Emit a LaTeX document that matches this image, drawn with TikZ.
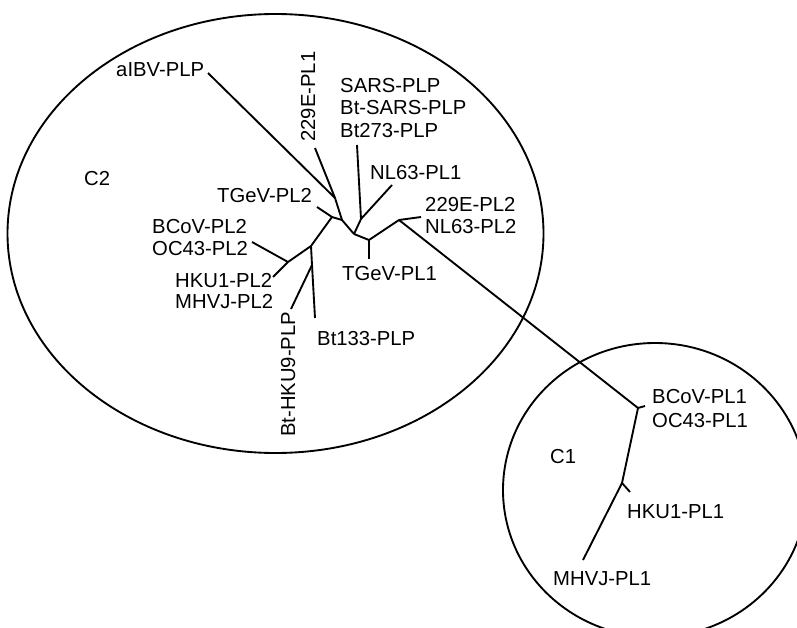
\documentclass[tikz,border=0pt]{standalone}
\usepackage{fontspec}
\setmainfont{Liberation Sans}
\begin{document}
\begin{tikzpicture}[x=0.03cm,y=-0.03cm]
  \tikzset{Taxon/.style={%
      anchor=base west,%
      inner sep=0pt,%
      font=\fontsize{17.3}{20}\selectfont,%
    }}
  \tikzset{Branch/.style={%
      -,%
      line width=1.6pt,%
    }}
  \tikzset{Clade/.style={%
      line width=1.6pt,%
    }}

  \useasboundingbox (0,0) rectangle (797,628);
  \clip (0,0) rectangle (797,628);

  % clade outlines
  \coordinate (c2) at (275.5,233.5);
  \coordinate (c1) at (655,490);
  \draw[Clade] (c2) ellipse [x radius=268, y radius=219.5];
  \draw[Clade] (c1) ellipse [x radius=152, y radius=147];
  \node[Taxon] (c2lab) at (84,186) {C2};
  \node[Taxon] (c1lab) at (550,463) {C1};

  % inner forks
  \coordinate (j1) at (342,220);
  \coordinate (j2) at (354,234);
  \coordinate (j3) at (361,219);
  \coordinate (j4) at (369,240);
  \coordinate (j5) at (399,220);
  \coordinate (j6) at (311,246);
  \coordinate (j7) at (332,217);
  \coordinate (j8) at (335,198);
  \coordinate (j9) at (288,262);
  \coordinate (j10) at (312,265);
  \coordinate (k1) at (638,408);
  \coordinate (k2) at (622,483);

  % tips
  \coordinate (aIBV) at (208,73);
  \coordinate (E229a) at (315,148);
  \coordinate (SARS) at (357,145);
  \coordinate (NL63a) at (392,185);
  \coordinate (TGeVb) at (317,207);
  \coordinate (E229b) at (421,217);
  \coordinate (TGeVa) at (369,259);
  \coordinate (OC43b) at (252,242);
  \coordinate (HKU1b) at (273,277);
  \coordinate (BtHKU9) at (291,309);
  \coordinate (Bt133) at (315,318);
  \coordinate (BCoVa) at (645,406);
  \coordinate (HKU1a) at (630,492);
  \coordinate (MHVJa) at (583,560);

  % names
  \node[Taxon] (aIBVlab) at (116,77) {aIBV-PLP};
  \node[Taxon, rotate=90] (E229alab) at (315,142) {229E-PL1};
  \node[Taxon] (SARSlab) at (340,93) {SARS-PLP};
  \node[Taxon] (BtSARSlab) at (340,115) {Bt-SARS-PLP};
  \node[Taxon] (Bt273lab) at (340,138) {Bt273-PLP};
  \node[Taxon] (NL63alab) at (370,180) {NL63-PL1};
  \node[Taxon] (TGeVblab) at (217,203) {TGeV-PL2};
  \node[Taxon] (E229blab) at (425,212) {229E-PL2};
  \node[Taxon] (NL63blab) at (425,233) {NL63-PL2};
  \node[Taxon] (TGeValab) at (342,280) {TGeV-PL1};
  \node[Taxon] (BCoVblab) at (152,233) {BCoV-PL2};
  \node[Taxon] (OC43blab) at (152,255) {OC43-PL2};
  \node[Taxon] (HKU1blab) at (175,287) {HKU1-PL2};
  \node[Taxon] (MHVJblab) at (175,308) {MHVJ-PL2};
  \node[Taxon, rotate=90] (BtHKU9lab) at (295,437) {Bt-HKU9-PLP};
  \node[Taxon] (Bt133lab) at (317,345) {Bt133-PLP};
  \node[Taxon] (BCoValab) at (652,403) {BCoV-PL1};
  \node[Taxon] (OC43alab) at (652,427) {OC43-PL1};
  \node[Taxon] (HKU1alab) at (627,518) {HKU1-PL1};
  \node[Taxon] (MHVJalab) at (553,585) {MHVJ-PL1};

  \path (aIBV) edge[Branch] (j8);
  \path (E229a) edge[Branch] (j8);
  \path (j8) edge[Branch] (j1);
  \path (TGeVb) edge[Branch] (j7);
  \path (j7) edge[Branch] (j1);
  \path (j7) edge[Branch] (j6);
  \path (j6) edge[Branch] (j9);
  \path (OC43b) edge[Branch] (j9);
  \path (j9) edge[Branch] (HKU1b);
  \path (j6) edge[Branch] (j10);
  \path (j10) edge[Branch] (Bt133);
  \path (j10) edge[Branch] (BtHKU9);
  \path (j1) edge[Branch] (j2);
  \path (j2) edge[Branch] (j3);
  \path (j3) edge[Branch] (SARS);
  \path (j3) edge[Branch] (NL63a);
  \path (j2) edge[Branch] (j4);
  \path (j4) edge[Branch] (TGeVa);
  \path (j4) edge[Branch] (j5);
  \path (j5) edge[Branch] (E229b);
  \path (j5) edge[Branch] (k1);
  \path (k1) edge[Branch] (BCoVa);
  \path (k1) edge[Branch] (k2);
  \path (k2) edge[Branch] (HKU1a);
  \path (k2) edge[Branch] (MHVJa);
\end{tikzpicture}
\end{document}
